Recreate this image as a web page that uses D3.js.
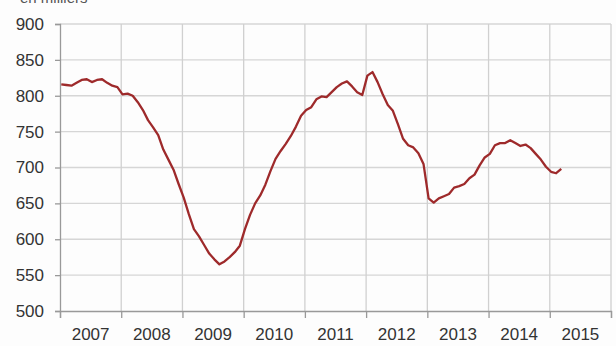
<!DOCTYPE html>
<html>
<head>
<meta charset="utf-8">
<script src="https://cdn.jsdelivr.net/npm/d3@7"></script>
<style>
  body { margin: 0; background: #fdfdfd; }
  svg { display: block; font-family: "Liberation Sans", Arial, sans-serif; }
</style>
</head>
<body>
<div id="chart"></div>
<script>
// monthly series, January 2007 to March 2015 (in thousands)
const startYear = 2007;
const values = [
  816, 815, 814, 818, 822, 823, 819, 822, 823, 818, 814, 812,   // 2007
  802, 803, 800, 791, 780, 766, 756, 745, 725, 711, 697, 677,   // 2008
  658, 635, 614, 604, 592, 580, 572, 565, 569, 575, 582, 591,   // 2009
  614, 634, 650, 661, 676, 695, 712, 723, 733, 744, 757, 772,   // 2010
  780, 784, 795, 799, 798, 805, 812, 817, 820, 813, 805, 801,   // 2011
  828, 833, 819, 802, 787, 779, 760, 740, 731, 728, 720, 705,   // 2012
  657, 651, 657, 660, 663, 672, 674, 677, 685, 690, 703, 714,   // 2013
  719, 731, 734, 734, 738, 734, 730, 732, 727, 719, 711, 701,   // 2014
  694, 692, 698                                                  // 2015
];
const yearLabels = ["2007", "2008", "2009", "2010", "2011", "2012", "2013", "2014", "2015"];
const yTicks = [500, 550, 600, 650, 700, 750, 800, 850, 900];
const unitLabel = "en milliers";

const W = 616, H = 346;
const margin = { top: 24, right: 5, bottom: 35, left: 60 };

const svg = d3.select("#chart").append("svg")
  .attr("width", W)
  .attr("height", H);

const x = d3.scaleLinear()
  .domain([startYear, startYear + yearLabels.length])
  .range([margin.left, W - margin.right]);

const y = d3.scaleLinear()
  .domain([500, 900])
  .range([H - margin.bottom, margin.top]);

// horizontal grid
svg.append("g")
  .selectAll("line")
  .data(yTicks.slice(1))
  .join("line")
  .attr("x1", margin.left)
  .attr("x2", W - margin.right)
  .attr("y1", d => y(d))
  .attr("y2", d => y(d))
  .attr("stroke", "#d6d6d6")
  .attr("stroke-width", 1.3);

// vertical grid at year boundaries
const yearEdges = d3.range(startYear + 1, startYear + yearLabels.length + 1);
svg.append("g")
  .selectAll("line")
  .data(yearEdges)
  .join("line")
  .attr("x1", d => x(d))
  .attr("x2", d => x(d))
  .attr("y1", y(900))
  .attr("y2", y(500))
  .attr("stroke", "#d0d0d0")
  .attr("stroke-width", 1.3);

// y axis
const yAxis = svg.append("g")
  .attr("transform", `translate(${margin.left},0)`)
  .call(d3.axisLeft(y).tickValues(yTicks).tickSize(5).tickPadding(11));
yAxis.select(".domain").attr("stroke", "#999").attr("stroke-width", 1.3);
yAxis.selectAll(".tick line").attr("stroke", "#999").attr("stroke-width", 1.3);
yAxis.selectAll("text")
  .attr("fill", "#333")
  .style("font-size", "17px");

// x axis: ticks on year boundaries, labels centred in each year
const xAxis = svg.append("g")
  .attr("transform", `translate(0,${y(500)})`)
  .call(d3.axisBottom(x)
    .tickValues(d3.range(startYear, startYear + yearLabels.length + 1))
    .tickSize(7)
    .tickFormat(""));
xAxis.select(".domain").attr("stroke", "#999").attr("stroke-width", 1.3);
xAxis.selectAll(".tick line").attr("stroke", "#999").attr("stroke-width", 1.3);

svg.append("g")
  .selectAll("text")
  .data(yearLabels)
  .join("text")
  .attr("x", (d, i) => x(startYear + i + 0.5))
  .attr("y", y(500) + 29)
  .attr("text-anchor", "middle")
  .attr("fill", "#333")
  .style("font-size", "17px")
  .text(d => d);

// unit label, partly cut off at the top as in the source
svg.append("text")
  .attr("x", 20)
  .attr("y", 3)
  .attr("fill", "#555")
  .style("font-size", "15px")
  .text(unitLabel);

// line
const line = d3.line()
  .x((d, i) => x(startYear + (i + 0.25) / 12))
  .y(d => y(d));

svg.append("path")
  .datum(values)
  .attr("fill", "none")
  .attr("stroke", "#9e2a2b")
  .attr("stroke-width", 2.3)
  .attr("stroke-linejoin", "round")
  .attr("d", line);
</script>
</body>
</html>
